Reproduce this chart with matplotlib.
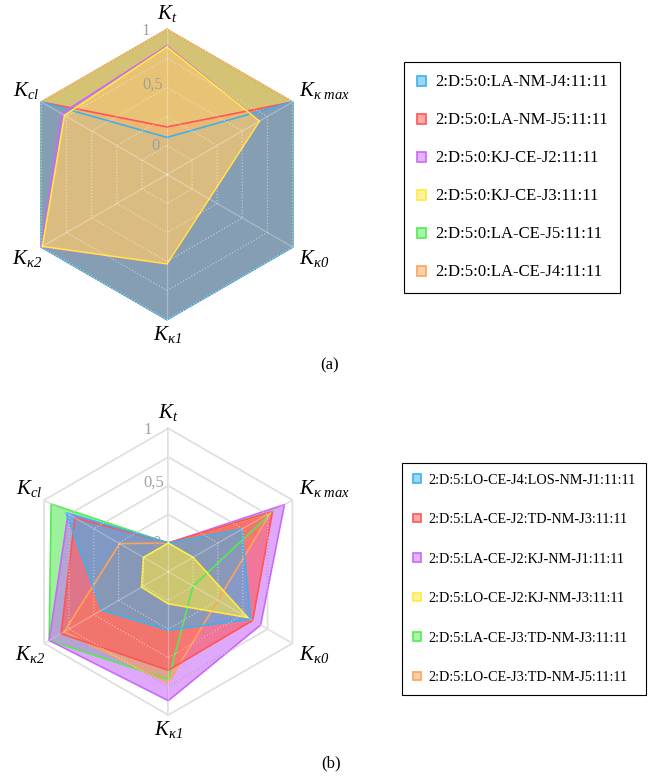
import numpy as np
import matplotlib
matplotlib.use('Agg')
import matplotlib.pyplot as plt
from matplotlib.patches import Patch

plt.rcParams['font.family'] = ['Liberation Serif', 'DejaVu Serif']
plt.rcParams['mathtext.fontset'] = 'custom'
plt.rcParams['mathtext.it'] = 'Liberation Serif:italic'
plt.rcParams['mathtext.rm'] = 'Liberation Serif:italic'
plt.rcParams['mathtext.default'] = 'it'

# radar axes, clockwise from the top
axis_labels = [r'$K_{t}$', r'$K_{\kappa\ max}$', r'$K_{\kappa 0}$',
               r'$K_{\kappa 1}$', r'$K_{\kappa 2}$', r'$K_{cl}$']
axis_angles = [90, 30, -30, -90, -150, 150]
tick_values = [0, 0.5, 1]
tick_labels = ['0', '0,5', '1']
ring_values = [0, 0.25, 0.5, 0.75, 1]

colors = ['#3bb2ef', '#ff5555', '#c86af8', '#ffe93f', '#55ea55', '#ffa25a']

# (a) single joints
names_a = ['2:D:5:0:LA-NM-J4:11:11', '2:D:5:0:LA-NM-J5:11:11',
           '2:D:5:0:KJ-CE-J2:11:11', '2:D:5:0:KJ-CE-J3:11:11',
           '2:D:5:0:LA-CE-J5:11:11', '2:D:5:0:LA-CE-J4:11:11']
la_nm_j4 = [0.07, 1, 1, 1, 1, 1]
la_nm_j5 = [0.16, 1, 1, 1, 1, 1]
kj_ce_j2 = [0.86, 0.67, 0.17, 0.52, 1.0, 0.80]
kj_ce_j3 = [0.85, 0.67, 0.17, 0.52, 0.99, 0.77]
la_ce_j5 = [1, 1, 1, 1, 1, 1]
la_ce_j4 = [1, 1, 1, 1, 1, 1]

# (b) joint pairs
names_b = ['2:D:5:LO-CE-J4:LOS-NM-J1:11:11', '2:D:5:LA-CE-J2:TD-NM-J3:11:11',
           '2:D:5:LA-CE-J2:KJ-NM-J1:11:11', '2:D:5:LO-CE-J2:KJ-NM-J3:11:11',
           '2:D:5:LA-CE-J3:TD-NM-J3:11:11', '2:D:5:LO-CE-J3:TD-NM-J5:11:11']
lo_j4_los_j1 = [0.0, 0.49, 0.58, 0.26, 0.42, 0.78]
la_j2_td_j3 = [0.0, 0.80, 0.60, 0.61, 0.83, 0.69]
la_j2_kj_j1 = [0.0, 0.92, 0.68, 0.875, 0.95, 0.76]
lo_j2_kj_j3 = [0.0, 0.0, 0.55, 0.03, 0.02, 0.0]
la_j3_td_j3 = [0.0, 0.81, 0.0, 0.69, 0.95, 0.93]
lo_j3_td_j5 = [0.0, 0.78, 0.25, 0.72, 0.80, 0.24]

series_a = [la_nm_j4, la_nm_j5, kj_ce_j2, kj_ce_j3, la_ce_j5, la_ce_j4]
series_b = [lo_j4_los_j1, la_j2_td_j3, la_j2_kj_j1, lo_j2_kj_j3, la_j3_td_j3, lo_j3_td_j5]

theta = np.radians(axis_angles)


def radius(v):
    # value 0 sits on the inner ring, 1 on the outer one
    return 0.2 + 0.8 * np.asarray(v, dtype=float)


def radar(ax, series, order):
    ax.set_xlim(-1.15, 1.15)
    ax.set_ylim(-1.15, 1.15)
    ax.set_aspect('equal')
    ax.axis('off')

    ring_x = np.append(np.cos(theta), np.cos(theta[0]))
    ring_y = np.append(np.sin(theta), np.sin(theta[0]))
    for v in ring_values:
        r = radius(v)
        ax.plot(r * ring_x, r * ring_y, color='#d9d9d9', lw=1.2, zorder=1)
        ax.plot(r * ring_x, r * ring_y, color='white', lw=0.9, alpha=0.45,
                ls=(0, (1, 1.5)), zorder=30)
    for t in theta:
        ax.plot([0, np.cos(t)], [0, np.sin(t)], color='#d9d9d9', lw=1.2, zorder=1)
        ax.plot([0, np.cos(t)], [0, np.sin(t)], color='white', lw=0.9, alpha=0.3,
                zorder=30)

    for k, i in enumerate(order):
        r = radius(series[i])
        x = r * np.cos(theta)
        y = r * np.sin(theta)
        ax.fill(x, y, facecolor=colors[i], alpha=0.58, edgecolor='none', zorder=5 + k)
        ax.plot(np.append(x, x[0]), np.append(y, y[0]), color=colors[i], lw=1.2,
                zorder=15 + k)

    for v, s, dx, dy in zip(tick_values, tick_labels, [-0.08, -0.10, -0.145],
                            [0.0, 0.02, -0.01]):
        ax.text(dx, radius(v) + dy, s, color='#a0a0a0', fontsize=12,
                ha='center', va='center', zorder=40)

    ax.text(0, 1.04, axis_labels[0], fontsize=15, ha='center', va='bottom')
    ax.text(0.91, 0.58, axis_labels[1], fontsize=15, ha='left', va='center')
    ax.text(0.91, -0.58, axis_labels[2], fontsize=15, ha='left', va='center')
    ax.text(0, -1.03, axis_labels[3], fontsize=15, ha='center', va='top')
    ax.text(-0.86, -0.58, axis_labels[4], fontsize=15, ha='right', va='center')
    ax.text(-0.88, 0.58, axis_labels[5], fontsize=15, ha='right', va='center')


def legend(fig, names, x0, y0, size, spacing):
    handles = [Patch(facecolor=matplotlib.colors.to_rgba(c, 0.5), edgecolor=c, lw=1.2)
               for c in colors]
    leg = fig.legend(handles, names, loc='upper left', bbox_to_anchor=(x0, y0),
                     borderaxespad=0, frameon=True, fancybox=False,
                     edgecolor='black', framealpha=1, fontsize=size,
                     labelspacing=spacing, handlelength=0.55, handleheight=0.55,
                     handletextpad=0.55, borderpad=0.75)
    leg.get_frame().set_linewidth(0.8)


W, H = 657, 777
fig = plt.figure(figsize=(W / 100, H / 100), dpi=100)

# (a) centre (167, 174.5) px, radius 145 px
s = 2.3 * 145
ax_a = fig.add_axes([(167 - s / 2) / W, (H - 174.5 - s / 2) / H, s / W, s / H])
radar(ax_a, series_a, [4, 5, 1, 0, 2, 3])
legend(fig, names_a, 404 / W, 1 - 62 / H, 12.0, 1.32)
fig.text(330 / W, 1 - 365 / H, '(a)', fontsize=12, ha='center', va='center')

# (b) centre (168.3, 571.7) px, radius 143.3 px
s = 2.3 * 143.3
ax_b = fig.add_axes([(168.3 - s / 2) / W, (H - 571.7 - s / 2) / H, s / W, s / H])
radar(ax_b, series_b, [4, 2, 5, 1, 0, 3])
legend(fig, names_b, 402 / W, 1 - 463 / H, 10.3, 1.85)
fig.text(331 / W, 1 - 763 / H, '(b)', fontsize=12, ha='center', va='center')

fig.savefig('out.png', dpi=100)
